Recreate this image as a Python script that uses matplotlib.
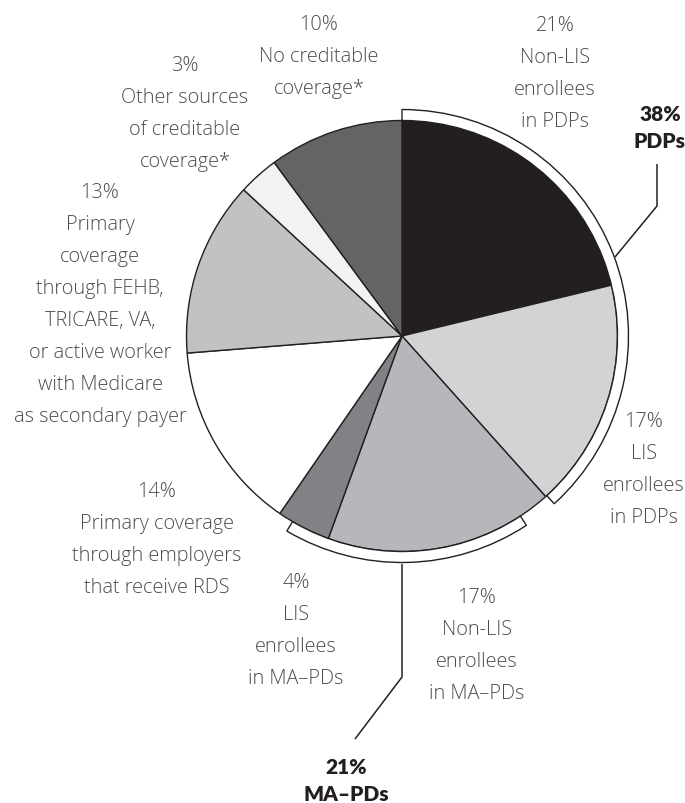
import numpy as np
import matplotlib.pyplot as plt
from matplotlib.patches import Wedge

# slices, clockwise from 12 o'clock
shares = [21, 17, 17, 4, 14, 13, 3, 10]
colors = ['#231f20', '#d1d3d4', '#b6b7ba', '#808285',
          '#ffffff', '#c1c2c4', '#f1f2f3', '#636466']
labels = [
    '21%\nNon-LIS\nenrollees\nin PDPs',
    '17%\nLIS\nenrollees\nin PDPs',
    '17%\nNon-LIS\nenrollees\nin MA\u2013PDs',
    '4%\nLIS\nenrollees\nin MA\u2013PDs',
    '14%\nPrimary coverage\nthrough employers\nthat receive RDS',
    '13%\nPrimary\ncoverage\nthrough FEHB,\nTRICARE, VA,\nor active worker\nwith Medicare\nas secondary payer',
    '3%\nOther sources\nof creditable\ncoverage*',
    '10%\nNo creditable\ncoverage*',
]
# label block centres in image pixels
label_xy = [(555, 74), (644, 470), (477, 646), (296, 631),
            (157, 540), (100, 305), (185, 114), (319, 57)]

groups = ['38%\nPDPs', '21%\nMA\u2013PDs']
group_slices = [(0, 2), (2, 4)]

W, H = 685, 804
cx, cy, R = 402, H - 337, 215.5

fig = plt.figure(figsize=(W / 100, H / 100), dpi=100)
ax = fig.add_axes([0, 0, 1, 1])
ax.set_xlim(0, W)
ax.set_ylim(0, H)
ax.set_aspect('equal')
ax.axis('off')

ax.pie(shares, colors=colors, startangle=90, counterclock=False,
       center=(cx, cy), radius=R,
       wedgeprops=dict(edgecolor='#231f20', linewidth=1.0))
ax.set_xlim(0, W)
ax.set_ylim(0, H)

# bracket arcs around the two plan groups
total = float(sum(shares))
cum = np.concatenate([[0], np.cumsum(shares)])
ang = 90 - cum / total * 360
trim = [(0.0, 0.4), (8.5, 4.0)]   # (start trim, end trim) in degrees
for (a, b), (t1, t2) in zip(group_slices, trim):
    th_hi = ang[a] - t1
    th_lo = ang[b] + t2
    ax.add_patch(Wedge((cx, cy), R + 11, th_lo, th_hi, width=11,
                       facecolor='white', edgecolor='#231f20', linewidth=1.0))

# leader lines (image pixels)
leaders = [[(615, 258), (657, 207), (657, 165)],
           [(402, 565), (402, 678), (355, 740)]]
for pts in leaders:
    xs = [p[0] for p in pts]
    ys = [H - p[1] for p in pts]
    ax.plot(xs, ys, color='#231f20', linewidth=1.1, solid_capstyle='butt')

font = ['Open Sans', 'DejaVu Sans']
for txt, (x, y) in zip(labels, label_xy):
    ax.text(x, H - y, txt, ha='center', va='center', fontsize=14.3,
            family=font, fontweight='light', color='#4d4d4d',
            linespacing=1.8)

group_xy = [(660, 128), (346, 781)]
for txt, (x, y) in zip(groups, group_xy):
    ax.text(x, H - y, txt, ha='center', va='center', fontsize=15,
            family=['Lato', 'DejaVu Sans'], fontweight='heavy',
            color='#231f20', linespacing=1.45)

fig.savefig('out.png', dpi=100)
